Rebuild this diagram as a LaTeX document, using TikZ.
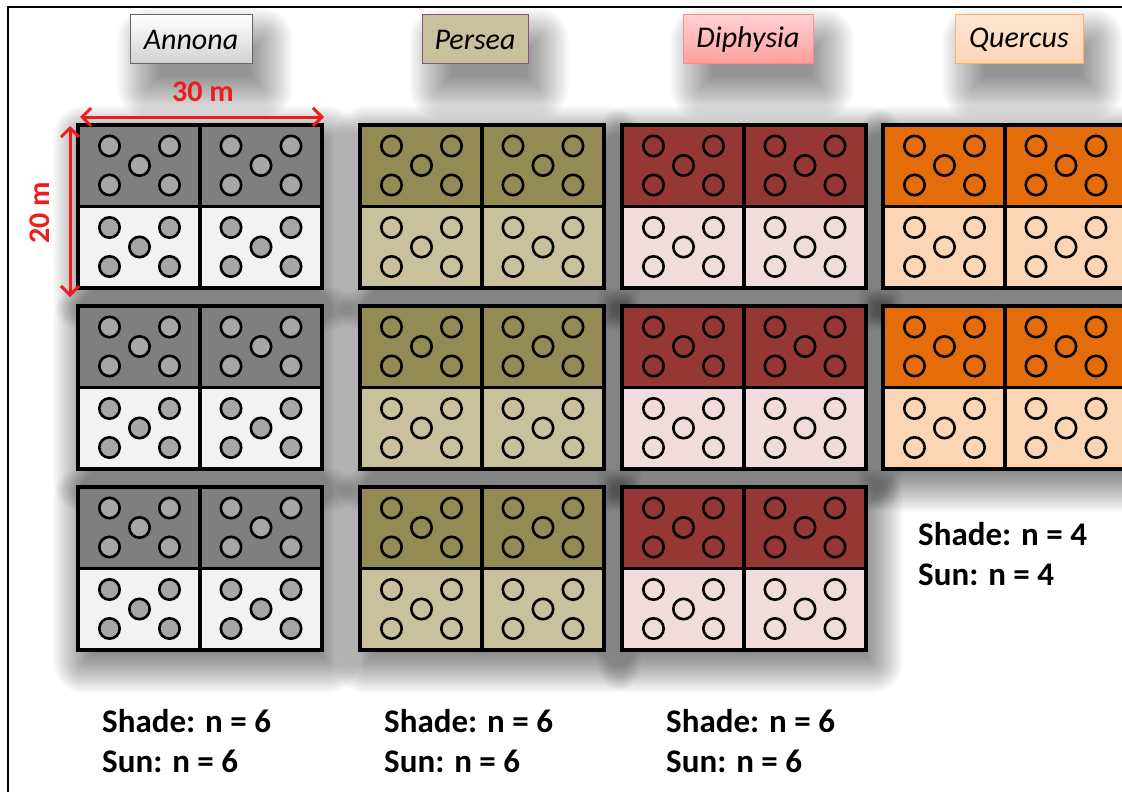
\documentclass[tikz,border=0pt]{standalone}
\usepackage{fontspec}
\setmainfont{Carlito}
\usetikzlibrary{arrows.meta}

\definecolor{annonaTop}{HTML}{7F7F7F}
\definecolor{annonaBot}{HTML}{F2F2F2}
\definecolor{annonaDot}{HTML}{A6A6A6}
\definecolor{perseaTop}{HTML}{948A54}
\definecolor{perseaBot}{HTML}{C9C19C}
\definecolor{diphTop}{HTML}{953735}
\definecolor{diphBot}{HTML}{F2DCDB}
\definecolor{querTop}{HTML}{E46C0A}
\definecolor{querBot}{HTML}{FCD5B5}
\definecolor{dimred}{HTML}{EE1C1C}

\tikzset{
  taxon/.style={draw, line width=1pt, minimum width=122pt, minimum height=49pt,
      inner sep=0pt, font=\itshape\fontsize{30}{34}\selectfont},
  count/.style={anchor=base west, inner sep=0pt, font=\bfseries\fontsize{33}{40}\selectfont},
  dim/.style={dimred, line width=3pt, {Straight Barb[length=9pt,width=18pt]}-{Straight Barb[length=9pt,width=18pt]}},
  dimlabel/.style={text=dimred, inner sep=0pt, font=\bfseries\fontsize{30}{34}\selectfont},
  tree/.style={line width=2.6pt}
}

% soft drop shadow built from stacked translucent rectangles
% #1,#2 upper left, #3,#4 lower right, #5,#6 offset, #7 spread, #8 opacity per layer
\newcommand\softshadow[8]{%
  \foreach \k in {1,...,24} {
    \pgfmathsetmacro\grow{#7*(\k/24-0.3)}
    \pgfmathsetmacro\rc{max(\grow,0.1)}
    \fill[black, opacity=#8, rounded corners=\rc pt]
      (#1+#5-\grow,#2+#6-\grow) rectangle (#3+#5+\grow,#4+#6+\grow);
  }}

% one plot block: 2 x 2 cells, five trees per cell
% #1 x, #2 y, #3 shaded row colour, #4 sunny row colour, #5 tree fill
\newcommand\plotblock[5]{%
  \begin{scope}[shift={(#1,#2)}]
    \fill[#4] (0,0) rectangle (244,163);
    \fill[#3] (0,0) rectangle (244,81.5);
    \foreach \cx in {61.5,183} {
      \foreach \cy in {40.5,122} {
        \foreach \dx/\dy in {-30/-19.5,30/-19.5,0/0,-30/19.5,30/19.5} {
          \draw[tree, fill=#5] (\cx+\dx,\cy+\dy) circle[radius=10.2pt];
        }
      }
    }
    \draw[line width=3.5pt] (122,0) -- (122,163) (0,81.5) -- (244,81.5);
    \draw[line width=4pt] (0,0) rectangle (244,163);
  \end{scope}}

\begin{document}
\begin{tikzpicture}[x=1pt,y=-1pt]
  \useasboundingbox (0,0) rectangle (1122,792);
  \fill[white] (0,0) rectangle (1122,792);
  \clip (0,0) rectangle (1122,792);

  % shadows under the blocks and the species labels
  \foreach \x in {78,360,622} {
    \foreach \y in {125,306,487} {
      \softshadow{\x}{\y}{\x+244}{\y+163}{6}{12}{44}{0.022}
    }
  }
  \foreach \y in {125,306} {
    \softshadow{883}{\y}{1127}{\y+163}{6}{12}{44}{0.022}
  }
  \foreach \xa/\xb in {130/252,422/528,683/813,955/1083} {
    \softshadow{\xa+8}{15}{\xb}{64}{10}{24}{44}{0.02}
  }

  % plot blocks, one column per species
  \foreach \y in {125,306,487} {
    \plotblock{78}{\y}{annonaTop}{annonaBot}{annonaDot}
    \plotblock{360}{\y}{perseaTop}{perseaBot}{none}
    \plotblock{622}{\y}{diphTop}{diphBot}{none}
  }
  \foreach \y in {125,306} {
    \plotblock{883}{\y}{querTop}{querBot}{none}
  }

  % frame
  \draw[line width=1.8pt] (8,800) -- (8,7) -- (1130,7);

  % species labels
  \node[taxon, draw=black!60, top color=white, bottom color=black!18] (annona) at (191,39.5) {Annona};
  \node[taxon, draw=violet!35!gray, fill=perseaBot, minimum width=106pt] (persea) at (475,39.5) {Persea};
  \node[taxon, draw=red!45!white, top color=red!18!white, bottom color=red!38!white, minimum width=130pt] (diphysia) at (748,39.5) {Diphysia};
  \node[taxon, draw=orange!60!white, top color=querBot!60!white, bottom color=querBot, minimum width=128pt] (quercus) at (1019,39.5) {Quercus};

  % plot dimensions
  \coordinate (w0) at (80,117);
  \coordinate (w1) at (324,117);
  \coordinate (h0) at (70,126);
  \coordinate (h1) at (70,297);
  \draw[dim] (w0) -- (w1);
  \draw[dim] (h0) -- (h1);
  \node[dimlabel] (wlab) at (203,92) {30 m};
  \node[dimlabel, rotate=90] (hlab) at (40,213) {20 m};

  % sample sizes
  \node[count] (annonaShade) at (102,732) {Shade: n = 6};
  \node[count] (annonaSun)   at (102,772) {Sun: n = 6};
  \node[count] (perseaShade) at (384,732) {Shade: n = 6};
  \node[count] (perseaSun)   at (384,772) {Sun: n = 6};
  \node[count] (diphShade)   at (666,732) {Shade: n = 6};
  \node[count] (diphSun)     at (666,772) {Sun: n = 6};
  \node[count] (querShade)   at (918,545) {Shade: n = 4};
  \node[count] (querSun)     at (918,585) {Sun: n = 4};
\end{tikzpicture}
\end{document}
